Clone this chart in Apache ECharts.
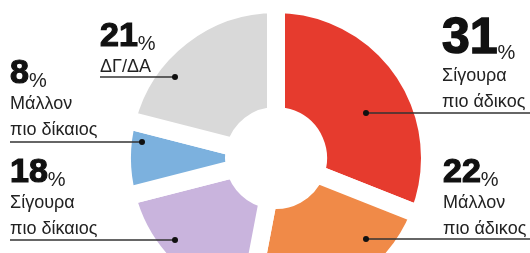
<!DOCTYPE html>
<html>
<head>
<meta charset="utf-8">
<script src="https://cdn.jsdelivr.net/npm/echarts@6/dist/echarts.min.js"></script>
<style>
  html, body { margin: 0; padding: 0; background: #fff; }
  #main { width: 530px; height: 253px; }
</style>
</head>
<body>
<div id="main"></div>
<script>
// απάντηση ανά κατηγορία (%)
const names = ['Σίγουρα πιο άδικος', 'Μάλλον πιο άδικος', 'Σίγουρα πιο δίκαιος', 'Μάλλον πιο δίκαιος', 'ΔΓ/ΔΑ'];
const values = [31, 22, 18, 8, 21];
const line1 = ['Σίγουρα', 'Μάλλον', 'Σίγουρα', 'Μάλλον', 'ΔΓ/ΔΑ'];
const line2 = ['πιο άδικος', 'πιο άδικος', 'πιο δίκαιος', 'πιο δίκαιος', ''];
const colors = ['#e63b2e', '#f08a48', '#c9b4dd', '#7cb1de', '#d9d9d9'];

// θέση ετικέτας, τελεία και άκρη γραμμής
const labelPos = [
    { x: 442, y: 15, big: true, dot: [366, 113], end: 530 },
    { x: 443, y: 156, dot: [366, 239], end: 530 },
    { x: 10, y: 156, dot: [175, 240], end: 10 },
    { x: 10, y: 57, dot: [142, 142], end: 10 },
    { x: 100, y: 20, dot: [175, 77], end: 100 }
];

const chart = echarts.init(document.getElementById('main'), null, { renderer: 'canvas' });

const font = '"Liberation Sans", Arial, sans-serif';

const data = values.map((v, i) => ({
    name: names[i],
    value: v,
    itemStyle: { color: colors[i] }
}));

// γραμμές οδηγοί με τελεία
const guides = [];
labelPos.forEach(lp => {
    guides.push({
        type: 'line',
        shape: { x1: lp.dot[0], y1: lp.dot[1], x2: lp.end, y2: lp.dot[1] },
        style: { stroke: '#333', lineWidth: 1.5 },
        z: 10
    });
    guides.push({
        type: 'circle',
        shape: { cx: lp.dot[0], cy: lp.dot[1], r: 3 },
        style: { fill: '#111' },
        z: 11
    });
});

const option = {
    animation: false,
    series: [{
        type: 'pie',
        center: [276, 158],
        radius: [42, 154],
        startAngle: 90,
        clockwise: true,
        avoidLabelOverlap: false,
        itemStyle: { borderColor: '#fff', borderWidth: 18 },
        emphasis: { disabled: true },
        label: {
            show: true,
            position: 'outside',
            formatter: function (p) {
                const i = p.dataIndex;
                const n = labelPos[i].big ? 'big' : 'num';
                let s = '{' + n + '|' + values[i] + '}{pct|%}\n{txt|' + line1[i] + '}';
                if (line2[i]) s += '\n{txt|' + line2[i] + '}';
                return s;
            },
            rich: {
                big: { fontFamily: font, fontWeight: 'bold', fontSize: 50, lineHeight: 48, color: '#111',
                    textBorderColor: '#111', textBorderWidth: 1.5 },
                num: { fontFamily: font, fontWeight: 'bold', fontSize: 34, lineHeight: 34, color: '#111',
                    textBorderColor: '#111', textBorderWidth: 1.2 },
                pct: { fontFamily: font, fontSize: 20, lineHeight: 34, color: '#222', verticalAlign: 'bottom' },
                txt: { fontFamily: font, fontSize: 18, lineHeight: 26, color: '#222' }
            }
        },
        labelLine: { show: false },
        labelLayout: function (params) {
            const lp = labelPos[params.dataIndex];
            return { x: lp.x, y: lp.y, align: 'left', verticalAlign: 'top' };
        },
        data: data
    }],
    graphic: guides
};

chart.setOption(option);
</script>
</body>
</html>
